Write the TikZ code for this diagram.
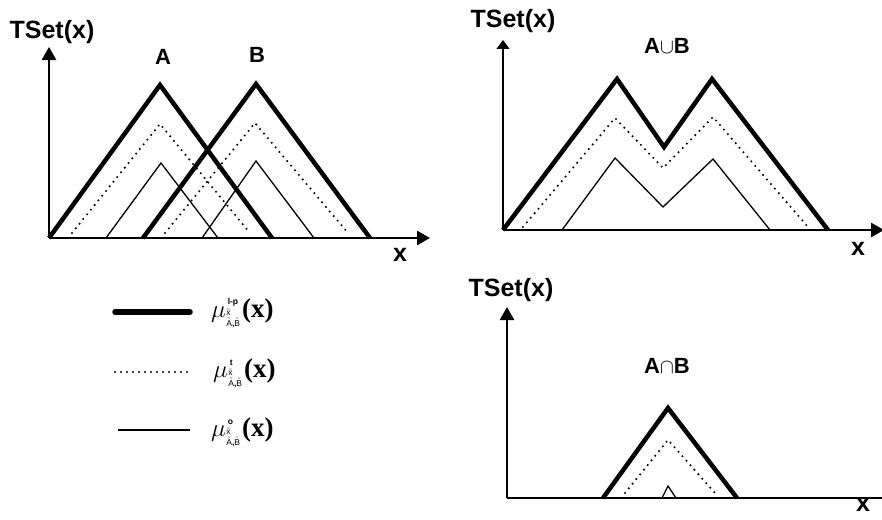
\documentclass[tikz,border=0pt]{standalone}
\usepackage{amsmath}
\usepackage{fontspec}
\setmainfont{Liberation Sans}
\newfontfamily\legfont{Liberation Serif}
\usetikzlibrary{arrows.meta}

% mu with stacked indices, as in the legend
\newcommand{\legmu}[1]{$\mu$\kern0.5pt\raisebox{-9pt}{\fontsize{8.5}{10}\selectfont\bfseries\shortstack[l]{\,#1\\$\tilde{\mathrm{x}}$\\$\tilde{\mathrm{A}}$,$\tilde{\mathrm{B}}$}}\kern2pt{\legfont\bfseries(x)}}

\begin{document}
\begin{tikzpicture}[
    x=1pt, y=-1pt,
    axis/.style={line width=2.6pt, -{Triangle[length=13pt, width=14pt]}},
    thinaxis/.style={line width=1.1pt, -{Triangle[length=9pt, width=13pt]}},
    thickline/.style={line width=4.5pt, line join=miter},
    dotline/.style={line width=2.3pt, line cap=round, dash pattern=on 0pt off 6pt},
    thinline/.style={line width=1.3pt},
    axlabel/.style={font=\fontsize{25}{30}\selectfont\bfseries, inner sep=0pt},
    setlabel/.style={font=\fontsize{22}{26}\selectfont\bfseries, inner sep=0pt},
    leglabel/.style={font=\fontsize{27}{30}\selectfont, anchor=west, inner sep=0pt},
]
\useasboundingbox (0,0) rectangle (882,519);

% left panel: A and B
\coordinate (o1) at (49,238);
\coordinate (y1) at (49,47);
\coordinate (x1) at (430,238);
\draw[axis] (o1) -- (y1);
\draw[axis] (o1) -- (x1);
\node[axlabel] (tset1) at (52,32) {TSet(x)};
\node[setlabel] (lblA) at (163,57) {A};
\node[setlabel] (lblB) at (257,55) {B};
\node[axlabel] (xlbl1) at (400,255) {x};

\draw[thickline] (49,238) -- (160,85) -- (272,238);
\draw[thickline] (143,238) -- (256,84) -- (370,238);
\draw[dotline] (72,233) -- (160,124) -- (250,233);
\draw[dotline] (165,233) -- (255,123) -- (348,233);
\draw[thinline] (106,238) -- (161,163) -- (218,238);
\draw[thinline] (202,238) -- (256,161) -- (314,238);

% right panel: union
\coordinate (o2) at (503,230);
\coordinate (y2) at (503,40);
\coordinate (x2) at (884,230);
\draw[thinaxis] (o2) -- (y2);
\draw[axis] (o2) -- (x2);
\node[axlabel] (tset2) at (513,21) {TSet(x)};
\node[setlabel] (lblU) at (667,46) {A$\cup$B};
\node[axlabel] (xlbl2) at (858,249) {x};

\draw[thickline] (503,230) -- (617,79) -- (664,147) -- (712,79) -- (828,230);
\draw[dotline] (523,227) -- (615,118) -- (663,168) -- (713,117) -- (808,227);
\draw[thinline] (562,230) -- (615,158) -- (663,207) -- (713,159) -- (770,230);

% lower right panel: intersection
\coordinate (o3) at (507,498);
\coordinate (y3) at (507,307);
\coordinate (x3) at (884,498);
\draw[axis] (o3) -- (y3);
\draw[line width=2.6pt] (o3) -- (x3);
\node[axlabel] (tset3) at (511,290) {TSet(x)};
\node[setlabel] (lblI) at (667,366) {A$\cap$B};
\node[axlabel] (xlbl3) at (863,505) {x};

\draw[thickline] (603,498) -- (668,408) -- (737,498);
\draw[dotline] (625,493) -- (668,440) -- (715,493);
\draw[thinline] (662,498) -- (668,486) -- (676,498);

% legend
\coordinate (l1a) at (115,312);
\coordinate (l1b) at (190,312);
\coordinate (l2a) at (115,372);
\coordinate (l2b) at (190,372);
\coordinate (l3a) at (118,430);
\coordinate (l3b) at (190,430);
\draw[thickline, line width=5.5pt, line cap=round] (l1a) -- (l1b);
\draw[dotline] (l2a) -- (l2b);
\draw[thinline, line width=1.6pt] (l3a) -- (l3b);
\node[leglabel] (leg1) at (211,313) {\legmu{l-p}};
\node[leglabel] (leg2) at (213,373) {\legmu{t}};
\node[leglabel] (leg3) at (211,432) {\legmu{o}};

\end{tikzpicture}
\end{document}
